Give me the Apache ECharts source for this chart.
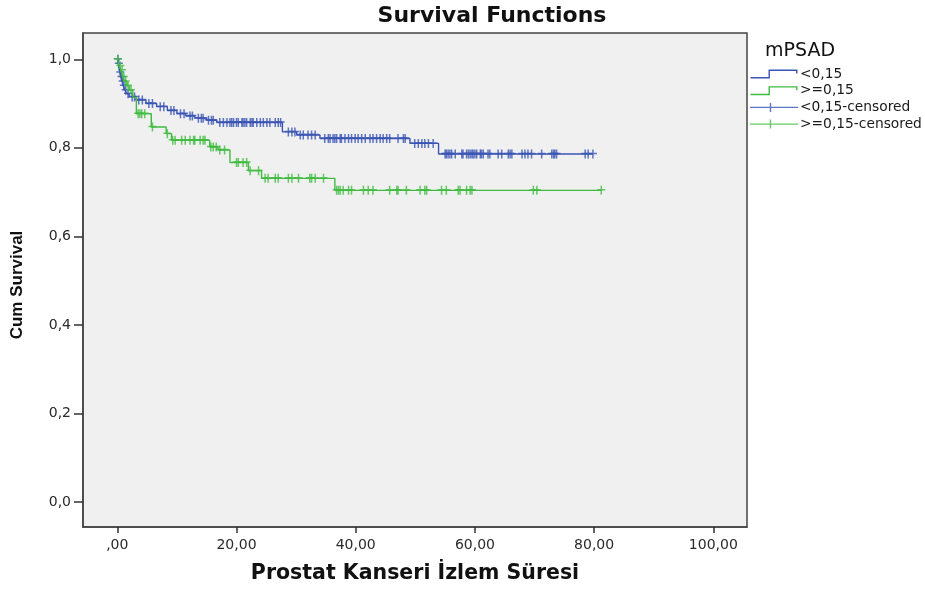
<!DOCTYPE html>
<html>
<head>
<meta charset="utf-8">
<title>Survival Functions</title>
<script src="https://cdn.jsdelivr.net/npm/echarts@6/dist/echarts.min.js"></script>
<style>
  html, body { margin: 0; padding: 0; background: #fff; }
  #chart { width: 925px; height: 589px; }
</style>
</head>
<body>
<div id="chart"></div>
<script>
// Kaplan-Meier steps: event time -> survival after the drop
const lowTimes = [0, 0.15, 0.3, 0.45, 0.6, 0.8, 1.0, 1.3, 1.6, 2.0, 3.2, 4.8, 6.6, 8.4, 10.0, 11.5, 13.0, 15.0, 16.7, 27.7, 30.1, 34.0, 49.1, 53.9]
const lowSurv = [1.0, 0.99, 0.98, 0.97, 0.96, 0.95, 0.94, 0.93, 0.922, 0.915, 0.908, 0.9, 0.893, 0.884, 0.877, 0.872, 0.867, 0.862, 0.857, 0.836, 0.829, 0.821, 0.81, 0.786]
const lowCensored = [0.1, 0.25, 0.5, 0.7, 0.9, 1.1, 1.4, 1.8, 2.5, 2.9, 3.6, 4.2, 5.3, 5.9, 7.2, 7.8, 9.0, 9.5, 10.6, 11.2, 12.2, 12.6, 13.6, 14.1, 14.4, 15.3, 15.8, 16.1,
  17.2, 17.8, 18.4, 18.9, 19.2, 19.5, 20.0, 20.3, 20.9, 21.1, 21.4, 21.7, 22.3, 22.6, 22.8, 23.4, 24.0, 24.5, 25.1, 25.6, 26.5, 27.0, 27.4,
  28.7, 29.3, 29.8, 30.7, 31.2, 32.0, 32.6, 33.2, 34.8, 35.4, 35.7, 36.2, 36.5, 36.8, 37.4, 37.6, 38.2, 38.8, 39.3, 39.9, 40.4, 41.0, 41.6,
  42.4, 42.9, 43.5, 44.1, 44.6, 45.2, 45.7, 47.1, 48.0, 48.3, 49.9, 50.5, 51.1, 51.6, 52.2, 53.0, 55.0, 55.2, 55.5, 55.8, 56.1, 56.7, 57.8,
  58.0, 58.6, 58.9, 59.2, 59.5, 59.7, 60.0, 60.3, 60.9, 61.1, 61.4, 62.2, 62.5, 63.9, 64.5, 65.6, 65.9, 66.2, 67.9, 68.4, 68.9, 69.5, 71.2,
  72.9, 73.2, 73.4, 73.7, 78.5, 79.0, 79.8]

const highTimes = [0, 0.3, 0.6, 0.9, 1.2, 1.6, 2.0, 2.6, 3.2, 5.7, 8.2, 9.1, 15.5, 16.9, 18.9, 22.0, 24.2, 36.5]
const highSurv = [1.0, 0.985, 0.975, 0.96, 0.95, 0.94, 0.93, 0.914, 0.877, 0.847, 0.832, 0.817, 0.802, 0.795, 0.767, 0.748, 0.731, 0.704]
const highCensored = [0.1, 0.5, 0.8, 1.1, 1.4, 1.8, 2.3, 3.5, 3.8, 4.1, 4.6, 5.9, 8.4, 9.3, 9.7, 10.8, 11.4, 12.2, 12.8, 13.0, 13.9, 14.4, 14.7,
  15.7, 16.1, 16.6, 17.2, 18.0, 20.0, 20.3, 21.1, 21.7, 22.3, 23.7, 24.8, 25.3, 26.5, 27.0, 28.7, 29.3, 30.4, 32.3, 32.6, 33.2, 34.6,
  36.8, 37.1, 37.4, 37.9, 38.8, 39.3, 41.3, 42.1, 42.9, 45.7, 46.9, 47.1, 48.5, 50.8, 51.6, 51.9, 54.4, 55.2, 57.2, 57.5, 58.6, 59.2,
  59.5, 69.8, 70.4, 81.2]

const groupNames = ['<0,15', '>=0,15', '<0,15-censored', '>=0,15-censored']
const xTickValues = [0, 20, 40, 60, 80, 100]
const xTickLabels = [',00', '20,00', '40,00', '60,00', '80,00', '100,00']
const yTickValues = [0, 0.2, 0.4, 0.6, 0.8, 1.0]
const yTickLabels = ['0,0', '0,2', '0,4', '0,6', '0,8', '1,0']

const BLUE = '#3a54b4'
const GREEN = '#40bb40'
const PLUS = 'path://M0,3.25 L8,3.25 L8,4.75 L0,4.75 Z M3.25,0 L4.75,0 L4.75,9 L3.25,9 Z'
const STEP_ICON = 'path://M0,7.6 L18,7.6 L18,0 L47,0 L47,4 L45.6,4 L45.6,1.4 L19.4,1.4 L19.4,9 L0,9 Z'
const PLUS_ICON = 'path://M0,3.8 L19.8,3.8 L19.8,0 L21.2,0 L21.2,3.8 L48,3.8 L48,5.2 L21.2,5.2 L21.2,9 L19.8,9 L19.8,5.2 L0,5.2 Z'

// survival value in force at time t
const survAt = (times, surv, t) => {
  let s = surv[0]
  for (let i = 0; i < times.length; i++) {
    if (times[i] <= t) s = surv[i]
  }
  return s
}
const stepData = (times, surv, censored) => {
  const pts = times.map((t, i) => [t, surv[i]])
  pts.push([censored[censored.length - 1], surv[surv.length - 1]])
  return pts
}
const censorData = (times, surv, censored) => censored.map(c => [c, survAt(times, surv, c)])

const chart = echarts.init(document.getElementById('chart'))
const option = {
  animation: false,
  backgroundColor: '#ffffff',
  title: [
    {
      text: 'Survival Functions',
      left: 492,
      top: 5,
      textAlign: 'center',
      padding: 0,
      textStyle: { fontFamily: 'DejaVu Sans', fontWeight: 'bold', fontSize: 22, color: '#111' }
    },
    {
      text: 'mPSAD',
      left: 765,
      top: 42,
      padding: 0,
      textStyle: { fontFamily: 'DejaVu Sans', fontWeight: 'normal', fontSize: 19, color: '#111' }
    }
  ],
  legend: {
    orient: 'vertical',
    left: 750,
    top: 67,
    padding: 0,
    itemWidth: 48,
    itemHeight: 9,
    itemGap: 2.7,
    itemStyle: { borderWidth: 0 },
    textStyle: { fontFamily: 'DejaVu Sans', fontSize: 13.8, color: '#1a1a1a', lineHeight: 13, padding: [0, 0, 0, -3] },
    data: [
      { name: groupNames[0], icon: STEP_ICON },
      { name: groupNames[1], icon: STEP_ICON },
      { name: groupNames[2], icon: PLUS_ICON },
      { name: groupNames[3], icon: PLUS_ICON }
    ]
  },
  grid: {
    left: 83,
    right: 178,
    top: 33,
    bottom: 61,
    show: true,
    backgroundColor: '#f0f0f0',
    borderColor: '#444',
    borderWidth: 1.5
  },
  xAxis: {
    type: 'value',
    min: -5.755,
    max: 105.65,
    name: 'Prostat Kanseri İzlem Süresi',
    nameLocation: 'middle',
    nameGap: 36,
    nameTextStyle: { fontFamily: 'DejaVu Sans', fontWeight: 'bold', fontSize: 20.5, color: '#111' },
    axisLine: { onZero: false, lineStyle: { color: '#444', width: 1.5 } },
    axisTick: { customValues: xTickValues, length: 6, lineStyle: { color: '#333', width: 1.5 } },
    axisLabel: {
      customValues: xTickValues,
      margin: 11,
      fontFamily: 'DejaVu Sans',
      fontSize: 14,
      color: '#2a2a2a',
      formatter: v => xTickLabels[xTickValues.indexOf(v)]
    },
    splitLine: { show: false }
  },
  yAxis: {
    type: 'value',
    min: -0.0563,
    max: 1.0593,
    name: 'Cum Survival',
    nameLocation: 'middle',
    nameGap: 57,
    nameTextStyle: { fontFamily: 'Liberation Sans', fontWeight: 'bold', fontSize: 17, color: '#111', padding: [0, 10, 0, 0] },
    axisLine: { show: true, onZero: false, lineStyle: { color: '#444', width: 1.5 } },
    axisTick: { show: true, customValues: yTickValues, length: 9, lineStyle: { color: '#333', width: 1.5 } },
    axisLabel: {
      customValues: yTickValues,
      margin: 12,
      fontFamily: 'DejaVu Sans',
      fontSize: 14,
      color: '#2a2a2a',
      formatter: v => yTickLabels[yTickValues.findIndex(y => Math.abs(y - v) < 1e-6)]
    },
    splitLine: { show: false }
  },
  series: [
    {
      name: groupNames[0],
      type: 'line',
      step: 'end',
      color: BLUE,
      symbol: 'none',
      lineStyle: { width: 1.4 },
      data: stepData(lowTimes, lowSurv, lowCensored)
    },
    {
      name: groupNames[1],
      type: 'line',
      step: 'end',
      color: GREEN,
      symbol: 'none',
      lineStyle: { width: 1.4 },
      data: stepData(highTimes, highSurv, highCensored)
    },
    {
      name: groupNames[2],
      type: 'scatter',
      color: BLUE,
      symbol: PLUS,
      symbolSize: [8, 9],
      data: censorData(lowTimes, lowSurv, lowCensored)
    },
    {
      name: groupNames[3],
      type: 'scatter',
      color: GREEN,
      symbol: PLUS,
      symbolSize: [8, 9],
      data: censorData(highTimes, highSurv, highCensored)
    }
  ]
}
chart.setOption(option)
</script>
</body>
</html>
